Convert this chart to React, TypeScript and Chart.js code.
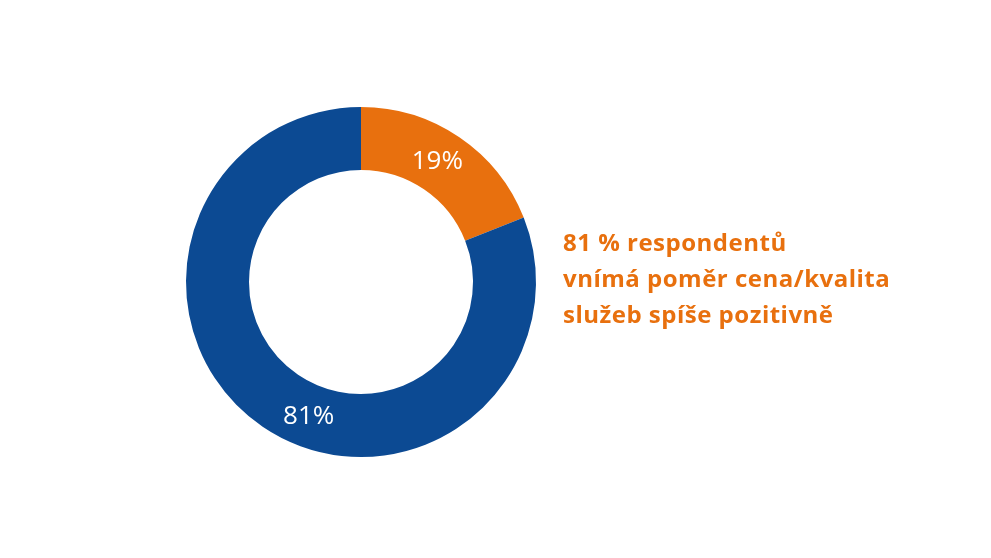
import React, { useEffect, useRef } from 'react';
import Chart from 'chart.js/auto';

// Hodnocení poměru cena/kvalita
const categories = ['spíše pozitivně', 'spíše negativně'];
const shares = [19, 81];
const sliceLabels = ['19%', '81%'];
const noteLines = ['81 % respondentů', 'vnímá poměr cena/kvalita', 'služeb spíše pozitivně'];

const ORANGE = '#E8700E';
const BLUE = '#0C4A93';

// kde na oblouku sedí popisek (podíl úhlu výseče)
const labelAt = [0.47, 0.456];

const sliceLabelPlugin = {
  id: 'sliceLabels',
  afterDatasetsDraw(chart: any) {
    const ctx = chart.ctx;
    const meta = chart.getDatasetMeta(0);
    ctx.save();
    ctx.fillStyle = '#ffffff';
    ctx.font = '500 26px "Open Sans", sans-serif';
    ctx.textAlign = 'center';
    ctx.textBaseline = 'middle';
    meta.data.forEach((arc: any, i: number) => {
      const { x, y, startAngle, endAngle, innerRadius, outerRadius } = arc.getProps(
        ['x', 'y', 'startAngle', 'endAngle', 'innerRadius', 'outerRadius'],
        true
      );
      const a = startAngle + (endAngle - startAngle) * labelAt[i];
      const r = (innerRadius + outerRadius) / 2;
      ctx.fillText(sliceLabels[i], x + Math.cos(a) * r, y + Math.sin(a) * r + 1);
    });
    ctx.restore();
  },
};

const App: React.FC = () => {
  const chartRef = useRef<HTMLCanvasElement>(null);

  useEffect(() => {
    if (!chartRef.current) return;
    const chart = new Chart(chartRef.current, {
      type: 'doughnut',
      data: {
        labels: categories,
        datasets: [
          {
            data: shares,
            backgroundColor: [ORANGE, BLUE],
            borderWidth: 0,
          },
        ],
      },
      options: {
        animation: false,
        responsive: true,
        maintainAspectRatio: false,
        cutout: '64%',
        layout: { padding: { left: 186, right: 455, top: 107, bottom: 101 } },
        plugins: {
          legend: { display: false },
          tooltip: { enabled: false },
        },
      },
      plugins: [sliceLabelPlugin],
    });
    return () => chart.destroy();
  }, []);

  return (
    <div
      style={{
        position: 'fixed',
        left: 0,
        top: 0,
        width: 991,
        height: 558,
        background: '#ffffff',
        overflow: 'hidden',
      }}
    >
      <div style={{ position: 'absolute', left: 0, top: 0, width: 991, height: 558 }}>
        <canvas ref={chartRef}></canvas>
      </div>
      <div
        style={{
          position: 'absolute',
          left: 563,
          top: 224,
          color: ORANGE,
          fontFamily: '"Open Sans", sans-serif',
          fontWeight: 700,
          fontSize: 24,
          letterSpacing: 0.5,
          lineHeight: '36px',
          whiteSpace: 'nowrap',
        }}
      >
        {noteLines.map((line) => (
          <div key={line}>{line}</div>
        ))}
      </div>
    </div>
  );
};

export default App;
